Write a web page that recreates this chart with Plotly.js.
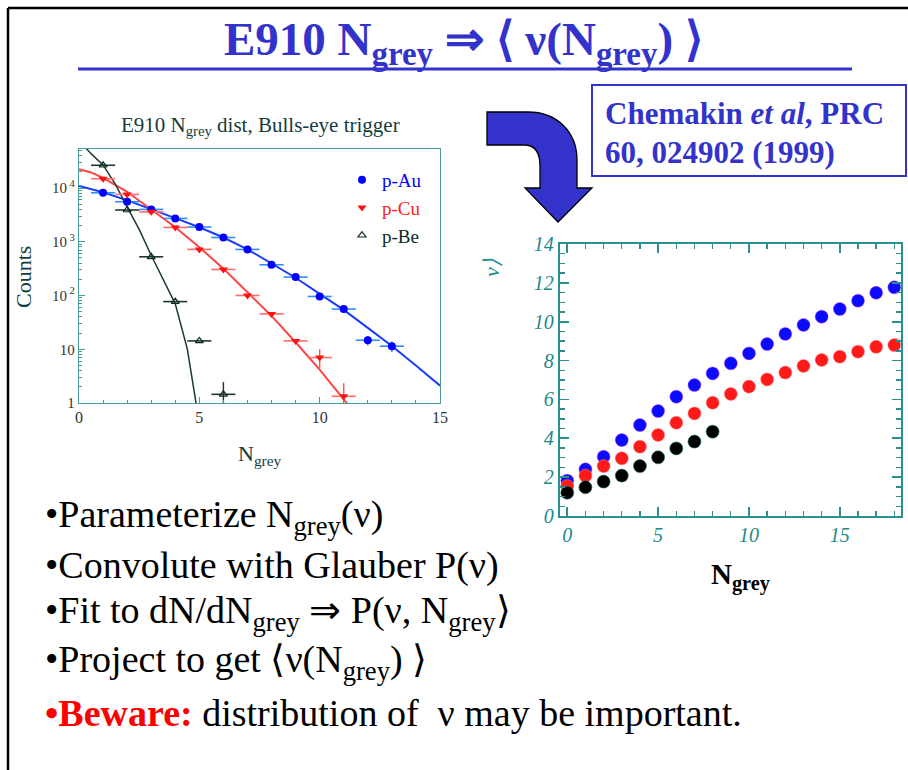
<!DOCTYPE html>
<html><head><meta charset="utf-8">
<script src="https://cdn.plot.ly/plotly-3.0.1.min.js"></script>
<style>html,body{margin:0;padding:0;background:#fff}</style>
</head><body><div id="chart" style="width:908px;height:770px"></div>
<script>
// ---- Left chart: E910 Ngrey distribution (counts, log) ----
const nGrey = [1,2,3,4,5,6,7,8,9,10,11,12,13];
const countsAu = [8150,5560,4000,2720,1880,1200,720,373,220,96,56,14.7,11.4];
const nGreyCu = [1,2,3,4,5,6,7,8,9,10,11];
const countsCu = [14900,7600,3600,1850,720,305,100,45.5,14.3,7.0,1.33];
const nGreyBe = [1,2,3,4,5,6];
const countsBe = [26500,3900,525,77,14.3,1.45];
const errUpAu = [0,0,0,0,0,0,0,0,0,0,0,3,2.5];
const errDnAu = [0,0,0,0,0,0,0,0,0,0,0,3,2.5];
const errUpCu = [0,0,0,0,0,0,0,0,0,3,1.0];
const errDnCu = [0,0,0,0,0,0,0,0,0,2.5,0.3];
const errUpBe = [0,0,0,0,0,1.0];
const errDnBe = [0,0,0,0,0,0.45];
// fit curves
const fitAuX = [0,1,2,3,4,5,6,7,8,9,10,11,12,13,14,15];
const fitAuY = [10960,8320,5890,4070,2750,1860,1200,724,398,214,107,54,25,11.5,5.0,2.1];
const fitCuX = [0,0.5,1,2,3,4,5,6,7,8,9,10,11,11.2];
const fitCuY = [22400,19500,15500,8500,3980,1860,794,316,115,41.7,13.5,4.17,1.17,0.9];
const fitBeX = [0,0.5,1,1.5,2,2.5,3,3.5,4,4.5,4.9];
const fitBeY = [76000,43600,26900,12000,4470,1700,560,200,70,10.2,0.79];

// ---- Right chart: <nu(Ngrey)> ----
const nGreyR = [0,1,2,3,4,5,6,7,8,9,10,11,12,13,14,15,16,17,18];
const nuAu = [1.82,2.40,3.05,3.91,4.68,5.40,6.14,6.74,7.34,7.86,8.37,8.85,9.37,9.83,10.26,10.65,11.08,11.49,11.77];
const nuCu = [1.54,2.08,2.57,2.97,3.57,4.17,4.80,5.28,5.83,6.28,6.66,7.03,7.38,7.72,8.03,8.20,8.46,8.71,8.80];
const nGreyRBe = [0,1,2,3,4,5,6,7,8];
const nuBe = [1.20,1.48,1.77,2.08,2.57,3.02,3.48,3.83,4.34];

const leftYTicks = [1,10,100,1000,10000];
const leftYTickText = ['1','10','10<sup> 2</sup>','10<sup> 3</sup>','10<sup> 4</sup>'];

const W = 908, H = 770;
const PX = x => x / W, PY = y => 1 - y / H;
const P = (x, y) => PX(x).toFixed(5) + ',' + PY(y).toFixed(5);
const SERIF = 'Liberation Serif, Times New Roman, serif';
const BLUE = '#0000ff', RED = '#ff1010';
const SLIDE = '#3333cc';
const TEAL = '#2a8f8f';
const DARK = '#143c3c';

function errX(color){ return {type:'constant', value:0.5, width:0, thickness:1.6, color:color}; }
function errY(up, dn, color){ return {type:'data', symmetric:false, array:up, arrayminus:dn, width:0, thickness:1.4, color:color}; }

const traces = [
  {x:fitAuX, y:fitAuY, mode:'lines', line:{color:'#1a3cff', width:2}, showlegend:false, xaxis:'x', yaxis:'y', hoverinfo:'skip'},
  {x:fitCuX, y:fitCuY, mode:'lines', line:{color:'#ff4444', width:2}, showlegend:false, xaxis:'x', yaxis:'y', hoverinfo:'skip'},
  {x:fitBeX, y:fitBeY, mode:'lines', line:{color:'#1c3a30', width:1.5}, showlegend:false, xaxis:'x', yaxis:'y', hoverinfo:'skip'},
  {x:nGrey, y:countsAu, mode:'markers', name:'<span style="color:#0000ff">p-Au</span>',
   marker:{symbol:'circle', size:8, color:BLUE}, error_x:errX('#2f8cff'), error_y:errY(errUpAu, errDnAu, '#2f6cff'), xaxis:'x', yaxis:'y'},
  {x:nGreyCu, y:countsCu, mode:'markers', name:'<span style="color:#ff2020">p-Cu</span>',
   marker:{symbol:'triangle-down', size:8, color:RED}, error_x:errX('#ff6a6a'), error_y:errY(errUpCu, errDnCu, '#ff5050'), xaxis:'x', yaxis:'y'},
  {x:nGreyBe, y:countsBe, mode:'markers', name:'<span style="color:#0c2a22">p-Be</span>',
   marker:{symbol:'triangle-up-open', size:7, color:'#0c2a22', line:{width:1.2}}, error_x:errX('#1c3a30'), error_y:errY(errUpBe, errDnBe, '#1c3a30'), xaxis:'x', yaxis:'y'},
  {x:nGreyR, y:nuAu, mode:'markers', showlegend:false, marker:{size:13, color:'#0a0aff', line:{width:1, color:'rgba(200,60,255,0.45)'}}, xaxis:'x2', yaxis:'y2'},
  {x:nGreyR, y:nuCu, mode:'markers', showlegend:false, marker:{size:13, color:'#ff1a1a', line:{width:1, color:'rgba(255,120,120,0.5)'}}, xaxis:'x2', yaxis:'y2'},
  {x:nGreyRBe, y:nuBe, mode:'markers', showlegend:false, marker:{size:13, color:'#000000', line:{width:1, color:'rgba(20,120,110,0.6)'}}, xaxis:'x2', yaxis:'y2'}
];

const minorLog = [];
for (let d = 1; d <= 10000; d *= 10) for (let k = 2; k <= 9; k++) minorLog.push(k*d);

const layout = {
  width: W, height: H,
  margin: {l:0, r:0, t:0, b:0},
  paper_bgcolor: '#ffffff', plot_bgcolor: '#ffffff',
  font: {family: SERIF, color: '#000'},
  showlegend: true,
  legend: {x: PX(342), y: PY(161), xanchor:'left', yanchor:'top', bgcolor:'rgba(0,0,0,0)',
           font:{family:SERIF, size:19}, itemwidth:30, tracegroupgap:0},
  xaxis: {domain:[PX(79), PX(440)], range:[0,15], anchor:'y', showgrid:false, zeroline:false,
          linecolor:'#4a9a9a', linewidth:1.2, mirror:true, ticks:'inside', ticklen:6, tickcolor:'#4a9a9a',
          tickvals:[0,5,10,15], ticktext:['0','5','10','15'],
          minor:{ticks:'inside', ticklen:3, tickcolor:'#4a9a9a', dtick:1, showgrid:false},
          tickfont:{family:SERIF, size:16, color:'#333'}},
  yaxis: {domain:[PY(403), PY(149)], type:'log', range:[0, 4.726], anchor:'x', showgrid:false, zeroline:false,
          linecolor:'#4a9a9a', linewidth:1.2, mirror:true, ticks:'inside', ticklen:6, tickcolor:'#4a9a9a',
          tickmode:'array', tickvals:leftYTicks, ticktext:leftYTickText,
          minor:{ticks:'inside', ticklen:3, tickcolor:'#4a9a9a', tickvals:minorLog, showgrid:false},
          tickfont:{family:SERIF, size:15, color:'#333'}},
  xaxis2: {domain:[PX(560), PX(900.7)], range:[-0.4, 18.35], anchor:'y2', showgrid:false, zeroline:false,
           linecolor:TEAL, linewidth:2.2, mirror:'allticks', ticks:'inside', ticklen:9, tickwidth:1.6, tickcolor:TEAL,
           tickvals:[0,5,10,15], ticktext:['0','5','10','15'],
           minor:{ticks:'inside', ticklen:5, tickwidth:1.4, tickcolor:TEAL, dtick:1, showgrid:false},
           tickfont:{family:SERIF, size:20, color:'#1a8a8a', style:'italic'}},
  yaxis2: {domain:[PY(516), PY(244)], range:[0,14], anchor:'x2', showgrid:false, zeroline:false,
           linecolor:TEAL, linewidth:2.2, mirror:'allticks', ticks:'inside', ticklen:9, tickwidth:1.6, tickcolor:TEAL,
           dtick:2, minor:{ticks:'inside', ticklen:5, tickwidth:1.4, tickcolor:TEAL, dtick:0.5, showgrid:false},
           tickfont:{family:SERIF, size:20, color:'#1a8a8a', style:'italic'}},
  shapes: [
    {type:'line', xref:'paper', yref:'paper', x0:PX(8), x1:PX(908), y0:PY(8), y1:PY(8), line:{color:'#000', width:2.5}},
    {type:'line', xref:'paper', yref:'paper', x0:PX(8), x1:PX(8), y0:PY(8), y1:PY(770), line:{color:'#000', width:2.5}},
    {type:'line', xref:'paper', yref:'paper', x0:PX(78), x1:PX(852), y0:PY(69), y1:PY(69), line:{color:SLIDE, width:3}},
    {type:'rect', xref:'paper', yref:'paper', x0:PX(592), x1:PX(906), y0:PY(85), y1:PY(176), line:{color:SLIDE, width:2}, fillcolor:'#fff'},
    {type:'path', xref:'paper', yref:'paper', fillcolor:SLIDE, line:{color:'#000', width:1.3},
     path:'M'+P(487,112)+' L'+P(528,112)+' C'+P(557,112)+' '+P(577,132)+' '+P(577,160)+' L'+P(577,188)+' L'+P(592,188)+' L'+P(558,222)+' L'+P(525,188)+' L'+P(540,188)+' L'+P(540,166)+' C'+P(540,153)+' '+P(535,145)+' '+P(524,145)+' L'+P(487,145)+' Z'}
  ],
  annotations: [
    {xref:'paper', yref:'paper', x:PX(463), y:PY(43), xanchor:'center', yanchor:'middle', showarrow:false,
     text:'<b>E910 N<sub>grey</sub> ⇒ ⟨ ν(N<sub>grey</sub>) ⟩</b>', font:{family:SERIF, size:47, color:SLIDE}},
    {xref:'paper', yref:'paper', x:PX(603), y:PY(113), xanchor:'left', yanchor:'middle', showarrow:false,
     text:'<b>Chemakin <i>et al</i>, PRC</b>', font:{family:SERIF, size:31, color:SLIDE}},
    {xref:'paper', yref:'paper', x:PX(603), y:PY(152), xanchor:'left', yanchor:'middle', showarrow:false,
     text:'<b>60, 024902 (1999)</b>', font:{family:SERIF, size:31, color:SLIDE}},
    {xref:'paper', yref:'paper', x:PX(260), y:PY(126), xanchor:'center', yanchor:'middle', showarrow:false,
     text:'E910 N<sub>grey</sub> dist, Bulls-eye trigger', font:{family:SERIF, size:21, color:DARK}},
    {xref:'paper', yref:'paper', x:PX(24), y:PY(277), xanchor:'center', yanchor:'middle', showarrow:false, textangle:-90,
     text:'Counts', font:{family:SERIF, size:22, color:DARK}},
    {xref:'paper', yref:'paper', x:PX(260), y:PY(455), xanchor:'center', yanchor:'middle', showarrow:false,
     text:'N<sub>grey</sub>', font:{family:SERIF, size:22, color:DARK}},
    {xref:'paper', yref:'paper', x:PX(491), y:PY(268), xanchor:'center', yanchor:'middle', showarrow:false, textangle:-90,
     text:'<i>ν⟩</i>', font:{family:SERIF, size:22, color:'#1a8a8a'}},
    {xref:'paper', yref:'paper', x:PX(740), y:PY(576), xanchor:'center', yanchor:'middle', showarrow:false,
     text:'<b>N<sub>grey</sub></b>', font:{family:SERIF, size:29, color:'#000'}},
    {xref:'paper', yref:'paper', x:PX(43), y:PY(517), xanchor:'left', yanchor:'middle', showarrow:false,
     text:'•Parameterize N<sub>grey</sub>(ν)', font:{family:SERIF, size:38, color:'#000'}},
    {xref:'paper', yref:'paper', x:PX(43), y:PY(565), xanchor:'left', yanchor:'middle', showarrow:false,
     text:'•Convolute with Glauber P(ν)', font:{family:SERIF, size:38, color:'#000'}},
    {xref:'paper', yref:'paper', x:PX(43), y:PY(613), xanchor:'left', yanchor:'middle', showarrow:false,
     text:'•Fit to dN/dN<sub>grey</sub> ⇒ P(ν, N<sub>grey</sub>⟩', font:{family:SERIF, size:38, color:'#000'}},
    {xref:'paper', yref:'paper', x:PX(43), y:PY(662), xanchor:'left', yanchor:'middle', showarrow:false,
     text:'•Project to get ⟨ν(N<sub>grey</sub>) ⟩', font:{family:SERIF, size:38, color:'#000'}},
    {xref:'paper', yref:'paper', x:PX(43), y:PY(713), xanchor:'left', yanchor:'middle', showarrow:false,
     text:'<span style="color:#ff0000"><b>•Beware:</b></span> distribution of  ν may be important.', font:{family:SERIF, size:38, color:'#000'}}
  ]
};

Plotly.newPlot('chart', traces, layout, {displayModeBar:false, staticPlot:true});
</script>
</body></html>
